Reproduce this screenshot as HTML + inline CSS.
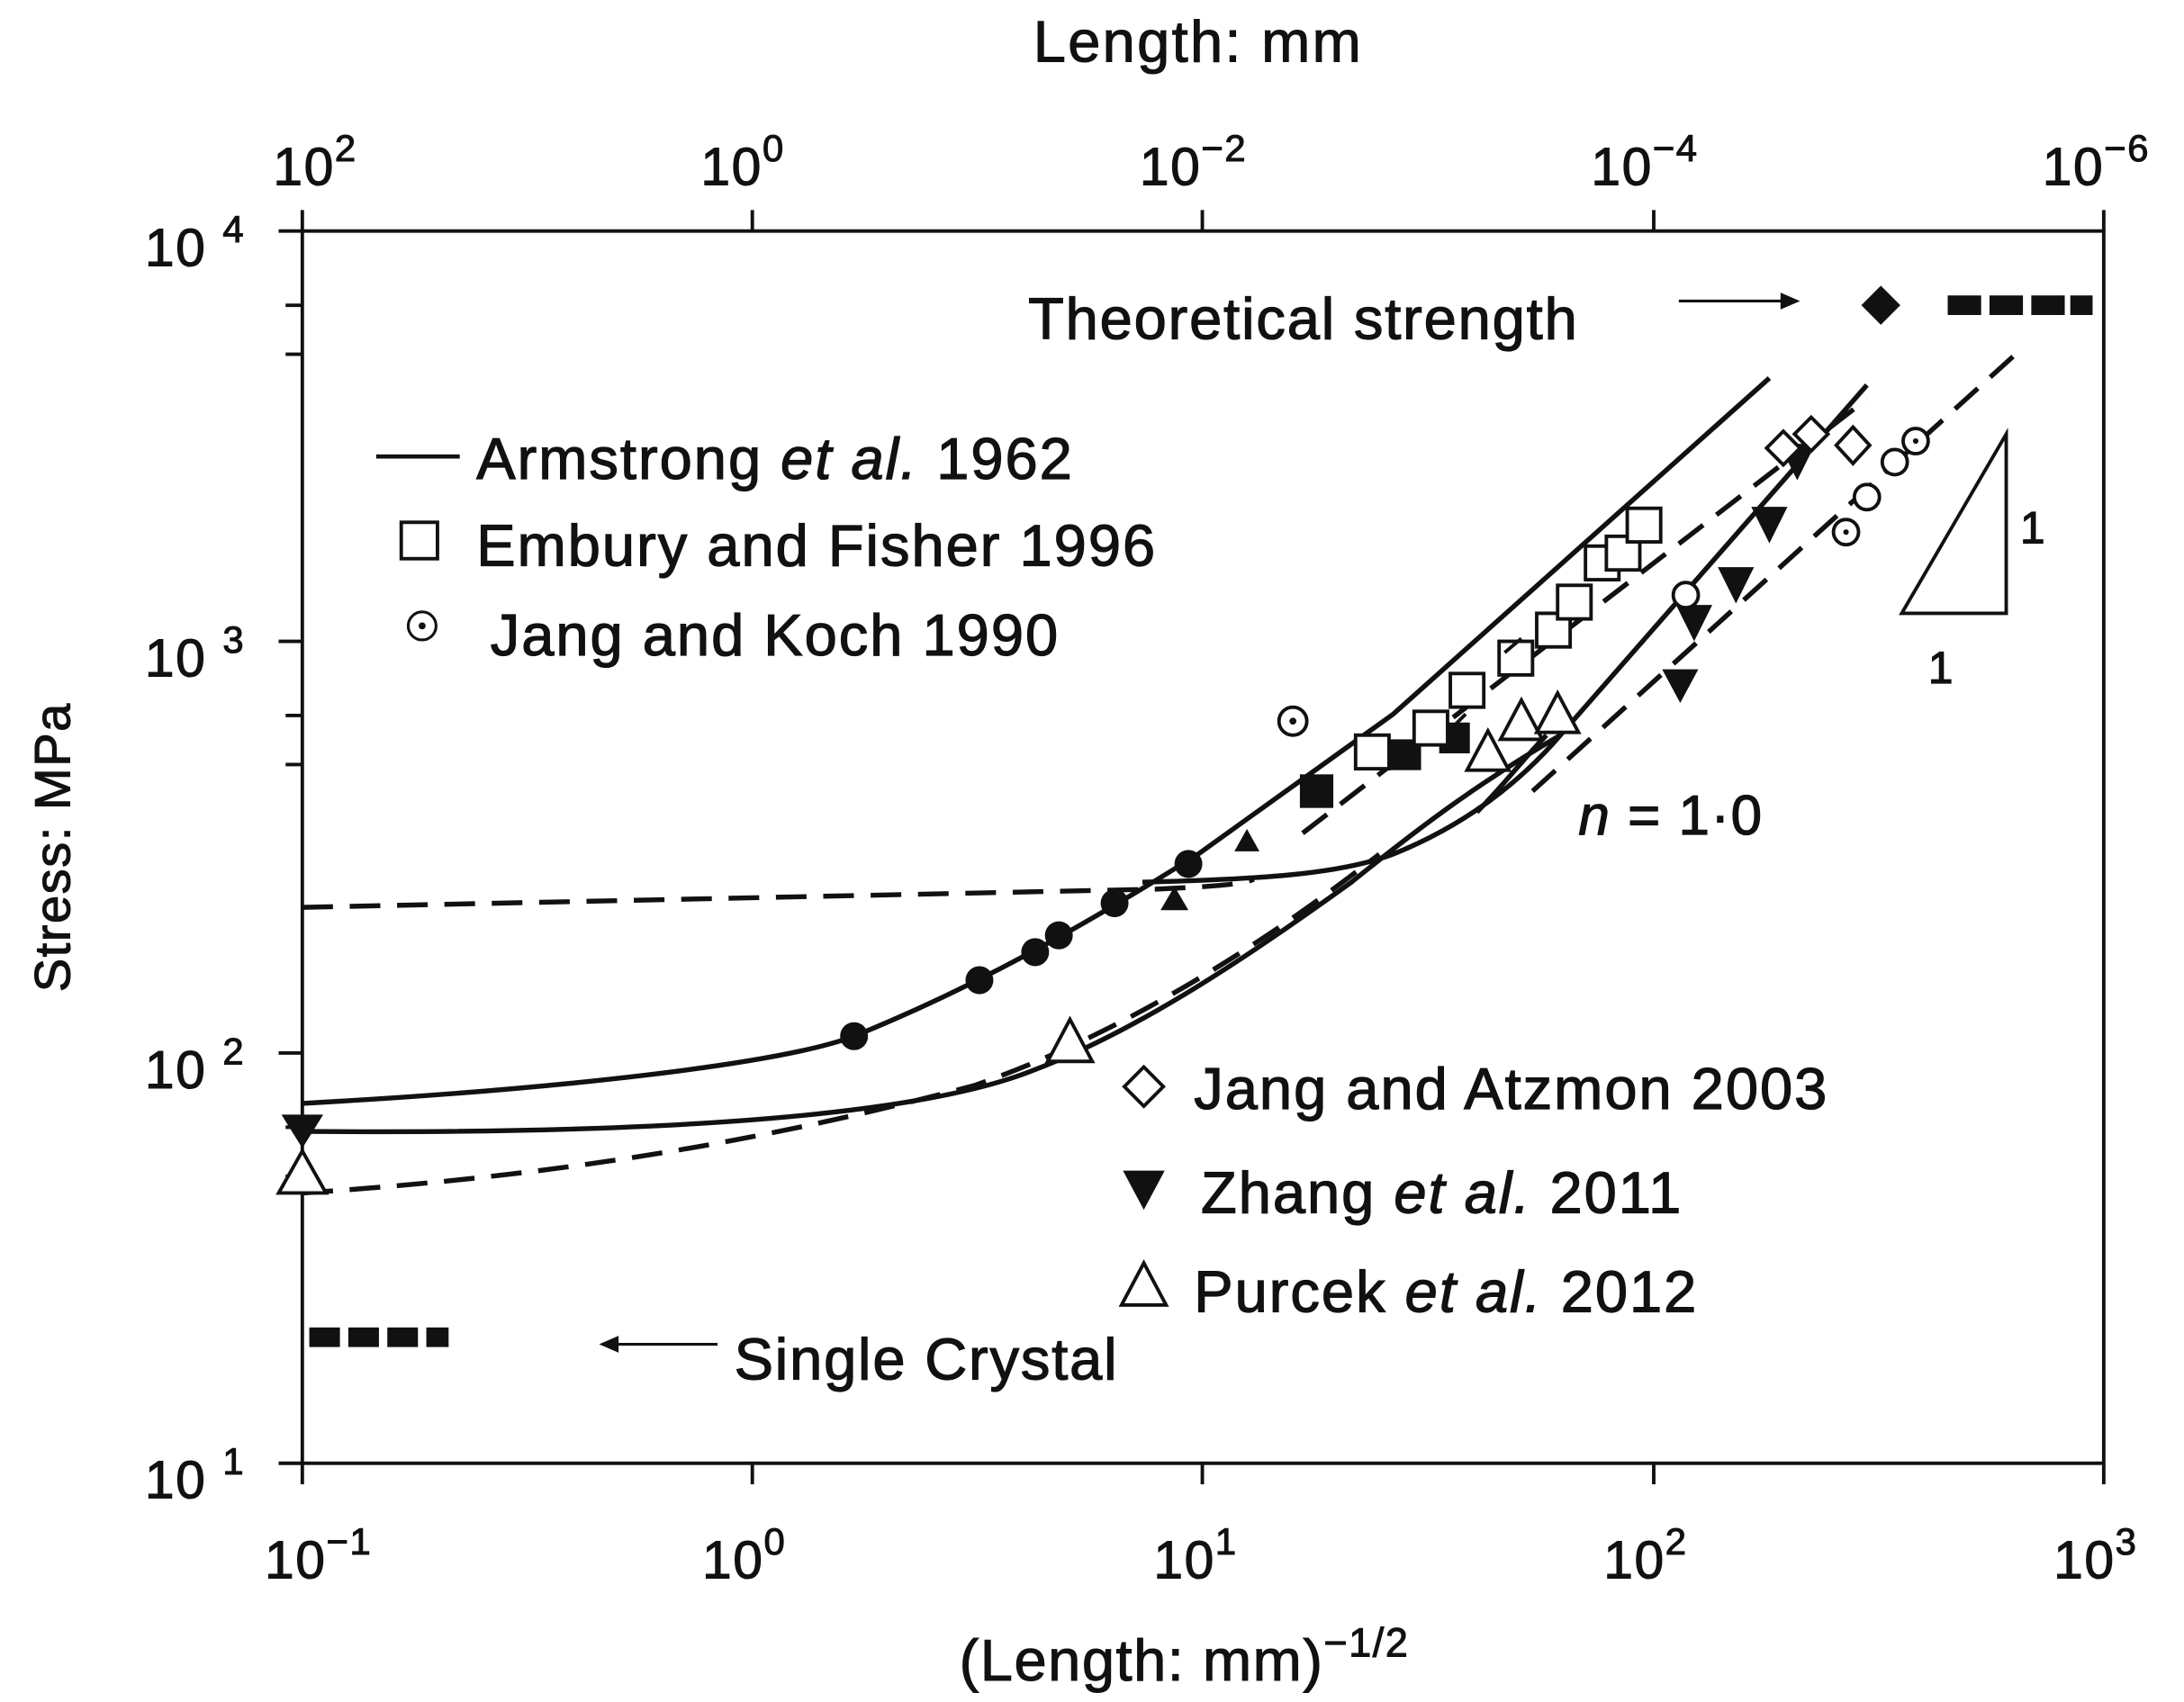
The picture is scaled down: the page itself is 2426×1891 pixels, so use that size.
<!DOCTYPE html>
<html><head><meta charset="utf-8"><style>html,body{margin:0;padding:0;background:#fff}svg{display:block}</style></head>
<body>
<svg width="2426" height="1891" viewBox="0 0 1567.6 1215.5" preserveAspectRatio="none" xmlns="http://www.w3.org/2000/svg" font-family="Liberation Sans, DejaVu Sans, sans-serif" fill="#111">
<rect x="0" y="0" width="1567.6" height="1215.5" fill="#fff"/>
<g stroke="#111" stroke-width="2.5" fill="none">
<rect x="217" y="165" width="1293" height="880"/>
<path d="M200 165H217M200 458H217M200 752H217M200 1045H217"/>
<path d="M205 218H217M205 253H217M205 511H217M205 546H217M205 805H217M205 840H217"/>
<path d="M217 1045V1060M540 1045V1060M863 1045V1060M1187 1045V1060M1510 1045V1060"/>
<path d="M217 150V165M540 150V165M863 150V165M1187 150V165M1510 150V165"/>
</g>
<g stroke="#111" stroke-width="0.7">
<g font-size="38" letter-spacing="1">
<text x="196" y="132">10<tspan dy="-17" font-size="27">2</tspan></text>
<text x="503" y="132">10<tspan dy="-17" font-size="27">0</tspan></text>
<text x="818" y="132">10<tspan dy="-17" font-size="27">−2</tspan></text>
<text x="1142" y="132">10<tspan dy="-17" font-size="27">−4</tspan></text>
<text x="1466" y="132">10<tspan dy="-17" font-size="27">−6</tspan></text>
<text x="190" y="1127">10<tspan dy="-17" font-size="27">−1</tspan></text>
<text x="504" y="1127">10<tspan dy="-17" font-size="27">0</tspan></text>
<text x="828" y="1127">10<tspan dy="-17" font-size="27">1</tspan></text>
<text x="1151" y="1127">10<tspan dy="-17" font-size="27">2</tspan></text>
<text x="1474" y="1127">10<tspan dy="-17" font-size="27">3</tspan></text>
<text x="104" y="190">10 <tspan dy="-17" font-size="27">4</tspan></text>
<text x="104" y="483">10 <tspan dy="-17" font-size="27">3</tspan></text>
<text x="104" y="777">10 <tspan dy="-17" font-size="27">2</tspan></text>
<text x="104" y="1070">10 <tspan dy="-17" font-size="27">1</tspan></text>
</g>
<text x="860" y="44" font-size="42" letter-spacing="1.5" text-anchor="middle">Length: mm</text>
<text x="850" y="1200" font-size="42" letter-spacing="1" text-anchor="middle">(Length: mm)<tspan dy="-17" font-size="29">−1/2</tspan></text>
<text transform="translate(50,605) rotate(-90)" font-size="36" letter-spacing="1" text-anchor="middle">Stress: MPa</text>
</g>
<g stroke="#111" stroke-width="3.5" fill="none">
<path d="M217 788 C400 778 560 760 613 740 C700 705 780 660 860 610 L1000 510 L1270 270"/>
<path d="M217 808 C450 810 650 800 740 765 C820 735 900 680 970 630 C1020 590 1060 560 1120 525 L1340 275"/>
<path d="M820 630 C900 628 960 625 1000 610 C1050 590 1090 560 1120 525"/>
<path d="M1060 580 C1080 560 1095 540 1110 525"/>
</g>
<g stroke="#111" stroke-width="3.5" fill="none" stroke-dasharray="22,12">
<path d="M217 648 L830 635 C870 633 890 632 900 628"/>
<path d="M217 852 C400 840 550 815 700 775 C800 740 900 680 990 610"/>
<path d="M935 595 L1340 285"/>
<path d="M1100 565 L1450 250"/>
</g>
<g fill="#111">
<circle cx="613" cy="740" r="10"/><circle cx="703" cy="700" r="10"/><circle cx="743" cy="680" r="10"/><circle cx="760" cy="668" r="10"/><circle cx="800" cy="645" r="10"/><circle cx="853" cy="617" r="10"/>
<path d="M843 633l-10 17h20z"/><path d="M895 592l-9 16h18z"/>
<rect x="933" y="553" width="24" height="24"/><rect x="998" y="528" width="22" height="22"/><rect x="1033" y="516" width="22" height="22"/>
<path d="M202 796h30l-15 24z"/>
<path d="M1193 478h26l-13 24z"/><path d="M1203 432h26l-13 26z"/><path d="M1233 405h26l-13 26z"/><path d="M1257 362h26l-13 26z"/><path d="M1277 317h26l-13 26z"/>
<path d="M1350 204l14 14-14 14-14-14z"/>
<path d="M1398 211h24v14h-24zM1428 211h24v14h-24zM1458 211h24v14h-24zM1486 211h16v14h-16z"/>
<path d="M222 948h22v14h-22zM250 948h22v14h-22zM278 948h22v14h-22zM306 948h16v14h-16z"/>
</g>
<g fill="#fff" stroke="#111" stroke-width="2.5">
<rect x="973" y="525" width="24" height="24"/><rect x="1015" y="508" width="24" height="24"/><rect x="1041" y="481" width="24" height="24"/><rect x="1076" y="458" width="24" height="24"/><rect x="1103" y="438" width="24" height="24"/><rect x="1118" y="418" width="24" height="24"/><rect x="1138" y="390" width="24" height="24"/><rect x="1153" y="383" width="24" height="24"/><rect x="1168" y="363" width="24" height="24"/>
<path d="M1044 518l8-8 M1080 466l12-10" />
<path d="M217 822l-17 30h34z"/><path d="M768 728l-16 30h32z"/><path d="M1068 522l-15 28h30z"/><path d="M1092 500l-15 28h30z"/><path d="M1118 495l-15 28h30z"/>
<path d="M1280 308l12 12-12 12-12-12z"/><path d="M1300 298l12 12-12 12-12-12z"/><path d="M1330 305l12 13-12 13-12-13z"/>
<circle cx="928" cy="515" r="10"/><circle cx="1210" cy="425" r="9"/><circle cx="1325" cy="380" r="9"/><circle cx="1340" cy="355" r="9"/><circle cx="1360" cy="330" r="9"/><circle cx="1375" cy="315" r="9"/>
<path d="M1365 438L1440 310V438Z"/>
</g>
<g fill="#111"><circle cx="928" cy="515" r="2.5"/><circle cx="1325" cy="380" r="2"/><circle cx="1375" cy="315" r="2"/></g>
<g stroke="#111" stroke-width="0.8">
<text x="1450" y="388" font-size="32">1</text>
<text x="1384" y="488" font-size="32">1</text>
<text x="738" y="242" font-size="42" letter-spacing="1.2">Theoretical strength</text>
<text x="527" y="985" font-size="42" letter-spacing="1.2">Single Crystal</text>
<text x="1133" y="596" font-size="40" letter-spacing="1"><tspan font-style="italic">n</tspan> = 1·0</text>
<g font-size="42" letter-spacing="1.3">
<text x="342" y="342">Armstrong <tspan font-style="italic">et al.</tspan> 1962</text>
<text x="342" y="404">Embury and Fisher 1996</text>
<text x="352" y="468">Jang and Koch 1990</text>
<text x="857" y="792">Jang and Atzmon 2003</text>
<text x="862" y="866">Zhang <tspan font-style="italic">et al.</tspan> 2011</text>
<text x="857" y="937">Purcek <tspan font-style="italic">et al.</tspan> 2012</text>
</g>
</g>
<path d="M1205 215H1280" stroke="#111" stroke-width="2"/><path d="M1292 215l-14-6v12z" fill="#111"/>
<path d="M515 960H440" stroke="#111" stroke-width="2"/><path d="M430 960l14-6v12z" fill="#111"/>
<path d="M270 326H330" stroke="#111" stroke-width="3"/>
<rect x="288" y="373" width="26" height="26" fill="none" stroke="#111" stroke-width="2.5"/>
<circle cx="303" cy="447" r="10" fill="none" stroke="#111" stroke-width="2"/><circle cx="303" cy="447" r="2.5"/>
<path d="M821 762l14 14-14 14-14-14z" fill="none" stroke="#111" stroke-width="2.5"/>
<path d="M806 836h30l-15 28z"/>
<path d="M821 902l-16 30h32z" fill="none" stroke="#111" stroke-width="2.5"/>
</svg>
</body></html>
